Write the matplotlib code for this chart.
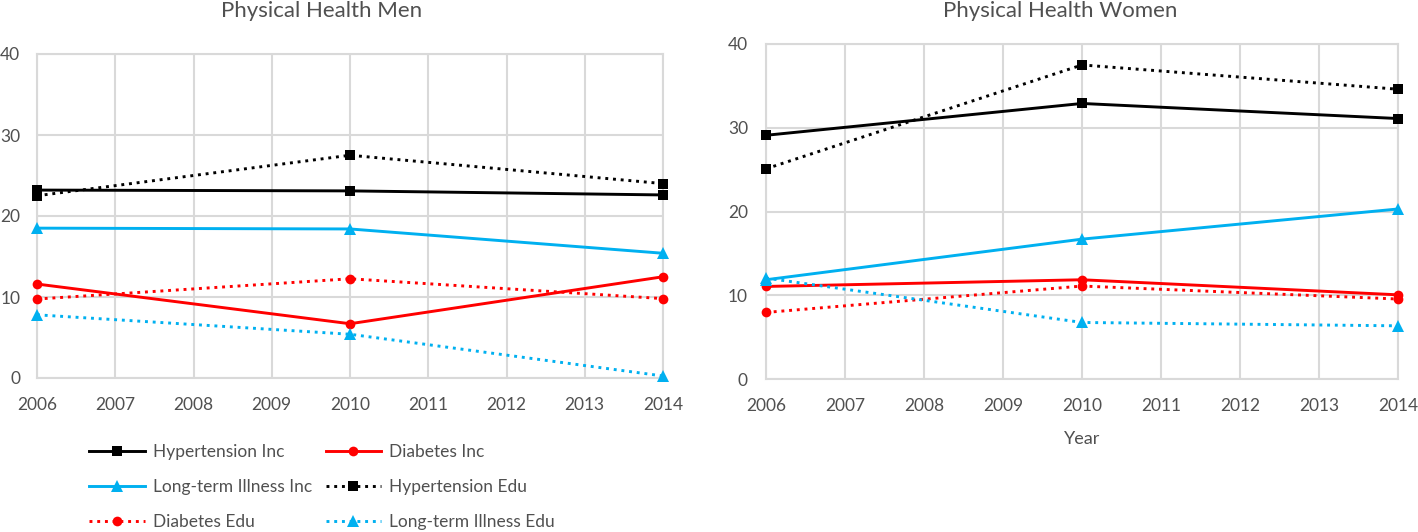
import matplotlib
matplotlib.use("Agg")
import matplotlib.pyplot as plt

plt.rcParams['font.family'] = ['Lato', 'DejaVu Sans']

# data
years = [2006, 2010, 2014]
series_names = ["Hypertension Inc", "Diabetes Inc", "Long-term Illness Inc",
                "Hypertension Edu", "Diabetes Edu", "Long-term Illness Edu"]

men_hyp_inc = [23.2, 23.1, 22.6]
men_diab_inc = [11.6, 6.7, 12.5]
men_lti_inc = [18.5, 18.4, 15.4]
men_hyp_edu = [22.5, 27.5, 24.0]
men_diab_edu = [9.75, 12.25, 9.8]
men_lti_edu = [7.8, 5.4, 0.25]

women_hyp_inc = [29.1, 32.9, 31.1]
women_diab_inc = [11.05, 11.85, 10.05]
women_lti_inc = [11.85, 16.7, 20.3]
women_hyp_edu = [25.1, 37.5, 34.6]
women_diab_edu = [7.95, 11.1, 9.55]
women_lti_edu = [12.05, 6.75, 6.35]

x_ticks = list(range(2006, 2015))
y_ticks = [0, 10, 20, 30, 40]

TXT = "#505050"
GRID = "#D9D9D9"
BLACK = "#000000"
RED = "#FF0000"
BLUE = "#00B0F0"

styles = [
    dict(color=BLACK, marker='s', linestyle='-'),
    dict(color=RED, marker='o', linestyle='-'),
    dict(color=BLUE, marker='^', linestyle='-'),
    dict(color=BLACK, marker='s', linestyle=':'),
    dict(color=RED, marker='o', linestyle=':'),
    dict(color=BLUE, marker='^', linestyle=':'),
]
msizes = {'s': 7, 'o': 7, '^': 8}

fig = plt.figure(figsize=(14.18, 5.32), dpi=100)
ax_m = fig.add_axes([37 / 1418, 1 - 378 / 532, (663 - 37) / 1418, (378 - 54) / 532])
ax_w = fig.add_axes([766 / 1418, 1 - 379 / 532, (1398 - 766) / 1418, (379 - 44) / 532])


def draw_panel(ax, data, pad):
    handles = []
    for vals, st, name in zip(data, styles, series_names):
        h, = ax.plot(years, vals, color=st['color'], linestyle=st['linestyle'],
                     linewidth=2.1, marker=st['marker'], markersize=msizes[st['marker']],
                     markeredgewidth=0, label=name, clip_on=False, zorder=3)
        handles.append(h)
    ax.set_xlim(2006, 2014)
    ax.set_ylim(0, 40)
    ax.set_xticks(x_ticks)
    ax.set_yticks(y_ticks)
    ax.grid(True, color=GRID, linewidth=1.5)
    ax.set_axisbelow(True)
    for sp in ax.spines.values():
        sp.set_color(GRID)
        sp.set_linewidth(1.5)
    ax.tick_params(length=0, labelsize=12.5, colors=TXT)
    ax.tick_params(axis='y', pad=pad)
    ax.tick_params(axis='x', pad=14)
    return handles


h = draw_panel(ax_m, [men_hyp_inc, men_diab_inc, men_lti_inc,
                      men_hyp_edu, men_diab_edu, men_lti_edu], 12)
draw_panel(ax_w, [women_hyp_inc, women_diab_inc, women_lti_inc,
                  women_hyp_edu, women_diab_edu, women_lti_edu], 13)

fig.text(322 / 1418, 1 - 11 / 532, "Physical Health Men", ha='center', va='center',
         fontsize=16, color=TXT)
fig.text(1060 / 1418, 1 - 11 / 532, "Physical Health Women", ha='center', va='center',
         fontsize=16, color=TXT)
ax_w.set_xlabel("Year", fontsize=13, color=TXT, labelpad=12)

# legend (column-major fill -> reorder)
order = [0, 2, 4, 1, 3, 5]
fig.legend([h[i] for i in order], [series_names[i] for i in order],
           ncol=2, loc='center', bbox_to_anchor=(322 / 1418, 1 - 487 / 532),
           frameon=False, fontsize=12.5, labelcolor=TXT, handlelength=3.2,
           columnspacing=0.8, labelspacing=1.1, handletextpad=0.45)

fig.savefig("out.png", dpi=100, facecolor='white')
